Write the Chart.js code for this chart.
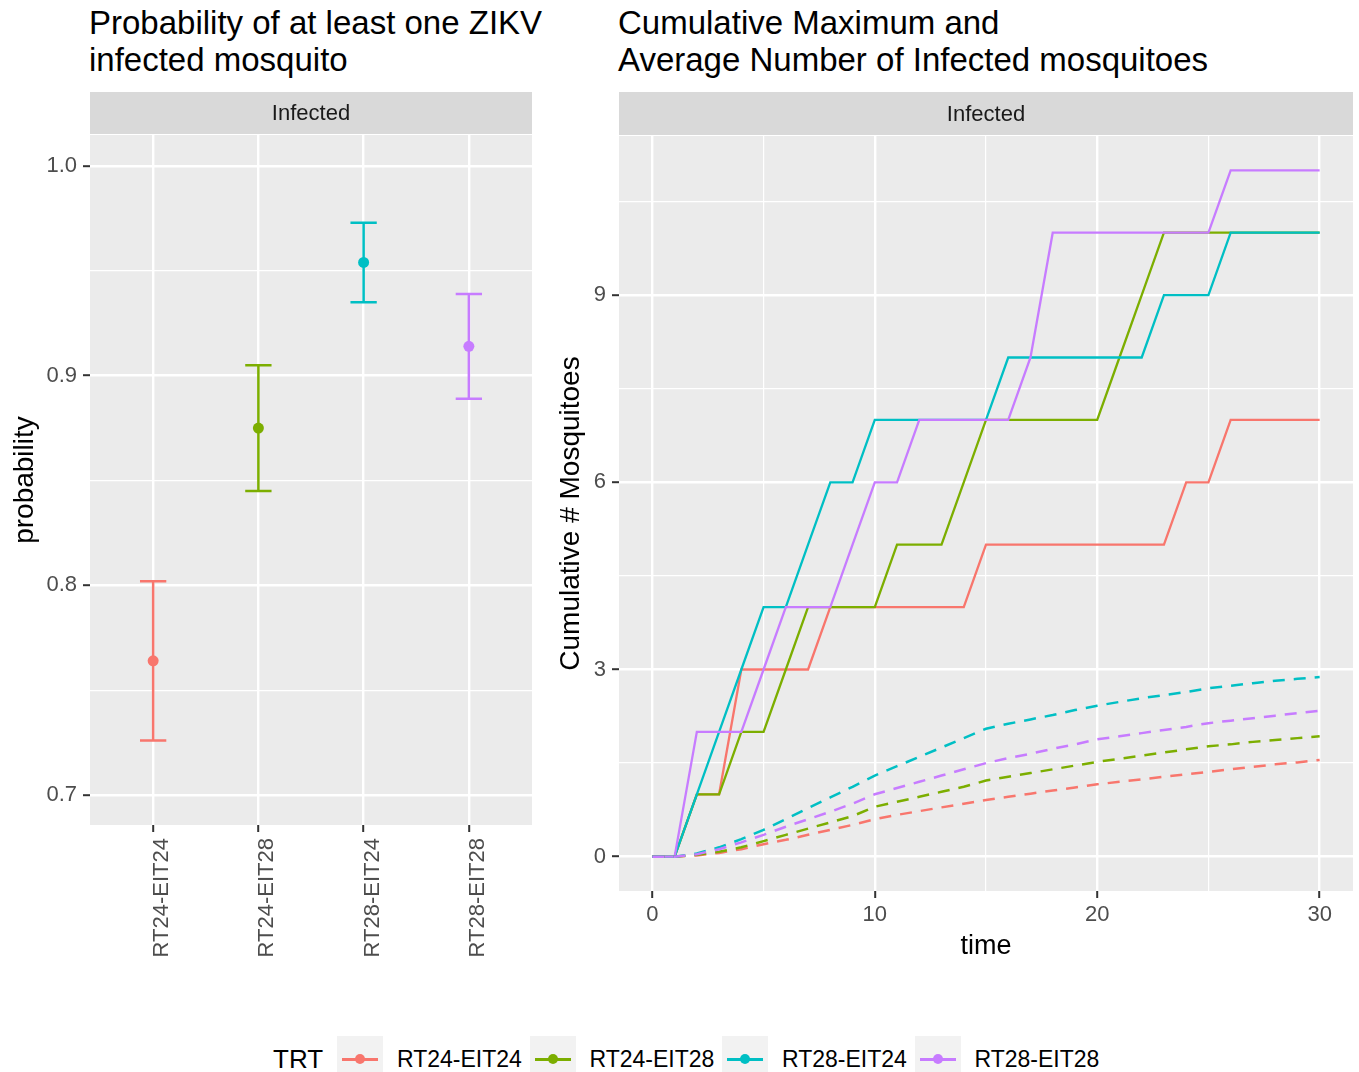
<!DOCTYPE html>
<html>
<head>
<meta charset="utf-8">
<script src="https://cdn.jsdelivr.net/npm/chart.js@4.4.1/dist/chart.umd.min.js"></script>
<style>
  body { margin: 0; background: #fff; font-family: "Liberation Sans", Arial, sans-serif; }
  #page { position: relative; width: 1359px; height: 1072px; overflow: hidden; }
  .title { position: absolute; top: 4px; font-size: 33px; line-height: 37px; color: #000; white-space: nowrap; }
  canvas { position: absolute; }
  #legend { position: absolute; left: 0; top: 1036px; width: 1359px; height: 46px; }
  #legend .ttl { position: absolute; left: 273px; top: 6px; font-size: 26px; line-height: 34px; color: #000; }
  #legend .key { position: absolute; top: 0; width: 46px; height: 46px; background: #F2F2F2; }
  #legend .key .ln { position: absolute; left: 5px; right: 5px; top: 22px; height: 2.5px; }
  #legend .key .pt { position: absolute; left: 18px; top: 18px; width: 10px; height: 10px; border-radius: 50%; }
  #legend .lbl { position: absolute; top: 8px; font-size: 23px; line-height: 30px; color: #000; white-space: nowrap; }
</style>
</head>
<body>
<div id="page">
  <div class="title" style="left:89px">Probability of at least one ZIKV<br>infected mosquito</div>
  <div class="title" style="left:618px">Cumulative Maximum and<br>Average Number of Infected mosquitoes</div>
  <canvas id="probChart" width="548" height="890" style="left:0;top:92px"></canvas>
  <canvas id="cumChart" width="814" height="890" style="left:545px;top:92px"></canvas>
  <div id="legend"></div>
</div>
<script>
// Группы и цвета
const treatments = ["RT24-EIT24", "RT24-EIT28", "RT28-EIT24", "RT28-EIT28"];
const colors = ["#F8766D", "#7CAE00", "#00BFC4", "#C77CFF"];

// Левая панель: вероятность и интервалы
const probEst = [0.764, 0.875, 0.954, 0.914];
const probLow = [0.726, 0.845, 0.935, 0.889];
const probHigh = [0.802, 0.905, 0.973, 0.939];
const probTicks = [0.7, 0.75, 0.8, 0.85, 0.9, 0.95, 1.0];

// Правая панель: время и ряды
const days = [0, 1, 2, 3, 4, 5, 6, 7, 8, 9, 10, 11, 12, 13, 14, 15, 16, 17, 18, 19, 20, 21, 22, 23, 24, 25, 26, 27, 28, 29, 30];
const maxRT24_EIT24 = [0, 0, 1, 1, 3, 3, 3, 3, 4, 4, 4, 4, 4, 4, 4, 5, 5, 5, 5, 5, 5, 5, 5, 5, 6, 6, 7, 7, 7, 7, 7];
const maxRT24_EIT28 = [0, 0, 1, 1, 2, 2, 3, 4, 4, 4, 4, 5, 5, 5, 6, 7, 7, 7, 7, 7, 7, 8, 9, 10, 10, 10, 10, 10, 10, 10, 10];
const maxRT28_EIT24 = [0, 0, 1, 2, 3, 4, 4, 5, 6, 6, 7, 7, 7, 7, 7, 7, 8, 8, 8, 8, 8, 8, 8, 9, 9, 9, 10, 10, 10, 10, 10];
const maxRT28_EIT28 = [0, 0, 2, 2, 2, 3, 4, 4, 4, 5, 6, 6, 7, 7, 7, 7, 7, 8, 10, 10, 10, 10, 10, 10, 10, 10, 11, 11, 11, 11, 11];
const avgRT24_EIT24 = [0, 0, 0.02, 0.06, 0.12, 0.2, 0.27, 0.35, 0.43, 0.51, 0.6, 0.67, 0.73, 0.79, 0.85, 0.91, 0.96, 1.01, 1.06, 1.11, 1.16, 1.2, 1.24, 1.28, 1.32, 1.36, 1.4, 1.44, 1.48, 1.51, 1.55];
const avgRT24_EIT28 = [0, 0, 0.03, 0.08, 0.15, 0.25, 0.35, 0.45, 0.55, 0.65, 0.8, 0.88, 0.96, 1.04, 1.12, 1.22, 1.28, 1.34, 1.4, 1.46, 1.52, 1.57, 1.62, 1.67, 1.72, 1.77, 1.8, 1.84, 1.87, 1.9, 1.93];
const avgRT28_EIT24 = [0, 0, 0.05, 0.15, 0.28, 0.43, 0.6, 0.78, 0.95, 1.12, 1.3, 1.45, 1.6, 1.75, 1.9, 2.05, 2.13, 2.2, 2.27, 2.35, 2.42, 2.48, 2.54, 2.59, 2.64, 2.7, 2.74, 2.78, 2.82, 2.85, 2.88];
const avgRT28_EIT28 = [0, 0, 0.04, 0.12, 0.23, 0.35, 0.48, 0.6, 0.72, 0.85, 1.0, 1.1, 1.2, 1.3, 1.4, 1.5, 1.58, 1.65, 1.73, 1.8, 1.88, 1.93, 1.98, 2.03, 2.08, 2.14, 2.18, 2.22, 2.26, 2.3, 2.34];
const countTicks = [0, 1.5, 3, 4.5, 6, 7.5, 9, 10.5];
const dayTicks = [0, 5, 10, 15, 20, 25, 30];

const maxSeries = [maxRT24_EIT24, maxRT24_EIT28, maxRT28_EIT24, maxRT28_EIT28];
const avgSeries = [avgRT24_EIT24, avgRT24_EIT28, avgRT28_EIT24, avgRT28_EIT28];

const FONT = "'Liberation Sans', Arial, sans-serif";
const PANEL = "#EBEBEB";
const STRIP = "#D9D9D9";

// Фон панели и полоса "Infected"
const panelPlugin = {
  id: "panel",
  beforeDraw(chart) {
    const { ctx, chartArea: a } = chart;
    ctx.save();
    ctx.fillStyle = PANEL;
    ctx.fillRect(a.left, a.top, a.right - a.left, a.bottom - a.top);
    ctx.fillStyle = STRIP;
    ctx.fillRect(a.left, 0, a.right - a.left, a.top - 1);
    ctx.fillStyle = "#1A1A1A";
    ctx.font = "22px " + FONT;
    ctx.textAlign = "center";
    ctx.textBaseline = "middle";
    ctx.fillText("Infected", (a.left + a.right) / 2, (a.top - 1) / 2 + 1);
    ctx.restore();
  },
};

// Усы интервалов
const errorBars = {
  id: "errorBars",
  beforeDatasetsDraw(chart) {
    const { ctx, scales: { x, y } } = chart;
    ctx.save();
    ctx.lineWidth = 2.5;
    treatments.forEach((t, i) => {
      const cx = x.getPixelForValue(i);
      const l = x.getPixelForValue(i - 0.125);
      const r = x.getPixelForValue(i + 0.125);
      const hi = y.getPixelForValue(probHigh[i]);
      const lo = y.getPixelForValue(probLow[i]);
      ctx.strokeStyle = colors[i];
      ctx.beginPath();
      ctx.moveTo(l, hi); ctx.lineTo(r, hi);
      ctx.moveTo(cx, hi); ctx.lineTo(cx, lo);
      ctx.moveTo(l, lo); ctx.lineTo(r, lo);
      ctx.stroke();
    });
    ctx.restore();
  },
};

const tickFont = { family: FONT, size: 22 };
const titleFont = { family: FONT, size: 28 };

// Левый график
new Chart(document.querySelector("#probChart").getContext("2d"), {
  type: "scatter",
  data: {
    datasets: treatments.map((t, i) => ({
      label: t,
      data: [{ x: i, y: probEst[i] }],
      backgroundColor: colors[i],
      borderColor: colors[i],
      pointRadius: 5.5,
      pointBorderWidth: 0,
    })),
  },
  options: {
    responsive: false,
    animation: false,
    layout: { padding: { top: 43, right: 16, left: 0, bottom: 0 } },
    plugins: { legend: { display: false }, tooltip: { enabled: false } },
    scales: {
      x: {
        type: "linear",
        min: -0.6,
        max: 3.6,
        afterBuildTicks: (s) => { s.ticks = treatments.map((t, i) => ({ value: i })); },
        afterFit: (s) => { s.height = 157; },
        border: { display: false },
        grid: { color: "#fff", lineWidth: 2.4, tickLength: 7, tickColor: "#333", tickWidth: 2 },
        ticks: {
          autoSkip: false,
          minRotation: 90,
          maxRotation: 90,
          padding: 6,
          labelOffset: 9,
          color: "#4D4D4D",
          font: tickFont,
          callback: (v) => treatments[v],
        },
      },
      y: {
        min: 0.6857,
        max: 1.0148,
        afterBuildTicks: (s) => { s.ticks = probTicks.map((v) => ({ value: v })); },
        afterFit: (s) => { s.width = 90; },
        border: { display: false },
        grid: {
          color: "#fff",
          lineWidth: (c) => (Math.round(c.tick.value * 100) % 10 === 0 ? 2.4 : 1.2),
          tickLength: 7,
          tickColor: (c) => (Math.round(c.tick.value * 100) % 10 === 0 ? "#333" : "rgba(0,0,0,0)"),
          tickWidth: 2,
        },
        ticks: {
          padding: 6,
          color: "#4D4D4D",
          font: tickFont,
          callback: (v) => (Math.round(v * 100) % 10 === 0 ? v.toFixed(1) : ""),
        },
        title: { display: true, text: "probability", color: "#000", font: titleFont, padding: { top: 8, bottom: 0 } },
      },
    },
  },
  plugins: [panelPlugin, errorBars],
});

// Правый график
const lineSets = [];
treatments.forEach((t, i) => {
  lineSets.push({
    label: t + " max",
    data: days.map((d, k) => ({ x: d, y: maxSeries[i][k] })),
    borderColor: colors[i],
    borderWidth: 2.3,
    pointRadius: 0,
    order: 8 - i,
  });
});
treatments.forEach((t, i) => {
  lineSets.push({
    label: t + " avg",
    data: days.map((d, k) => ({ x: d, y: avgSeries[i][k] })),
    borderColor: colors[i],
    borderWidth: 2.5,
    borderDash: [12, 9],
    pointRadius: 0,
    order: 4 - i,
  });
});

new Chart(document.querySelector("#cumChart").getContext("2d"), {
  type: "line",
  data: { datasets: lineSets },
  options: {
    responsive: false,
    animation: false,
    layout: { padding: { top: 44, right: 6, left: 0, bottom: 0 } },
    plugins: { legend: { display: false }, tooltip: { enabled: false } },
    scales: {
      x: {
        type: "linear",
        min: -1.5,
        max: 31.5,
        afterBuildTicks: (s) => { s.ticks = dayTicks.map((v) => ({ value: v })); },
        afterFit: (s) => { s.height = 91; },
        border: { display: false },
        grid: {
          color: "#fff",
          lineWidth: (c) => (c.tick.value % 10 === 0 ? 2.4 : 1.2),
          tickLength: 7,
          tickColor: (c) => (c.tick.value % 10 === 0 ? "#333" : "rgba(0,0,0,0)"),
          tickWidth: 2,
        },
        ticks: {
          maxRotation: 0,
          autoSkip: false,
          padding: 4,
          color: "#4D4D4D",
          font: tickFont,
          callback: (v) => (v % 10 === 0 ? String(v) : ""),
        },
        title: { display: true, text: "time", color: "#000", font: { family: FONT, size: 27 }, padding: { top: 0, bottom: 19 } },
      },
      y: {
        min: -0.55,
        max: 11.55,
        afterBuildTicks: (s) => { s.ticks = countTicks.map((v) => ({ value: v })); },
        afterFit: (s) => { s.width = 74; },
        border: { display: false },
        grid: {
          color: "#fff",
          lineWidth: (c) => (c.tick.value % 3 === 0 ? 2.4 : 1.2),
          tickLength: 7,
          tickColor: (c) => (c.tick.value % 3 === 0 ? "#333" : "rgba(0,0,0,0)"),
          tickWidth: 2,
        },
        ticks: {
          padding: 6,
          color: "#4D4D4D",
          font: tickFont,
          callback: (v) => (v % 3 === 0 ? String(v) : ""),
        },
        title: { display: true, text: "Cumulative # Mosquitoes", color: "#000", font: titleFont, padding: { top: 9, bottom: 0 } },
      },
    },
  },
  plugins: [panelPlugin],
});

// Легенда снизу
const legend = document.querySelector("#legend");
legend.innerHTML = '<div class="ttl">TRT</div>';
treatments.forEach((t, i) => {
  const left = 337 + i * 192.5;
  legend.innerHTML +=
    `<div class="key" style="left:${left}px"><div class="ln" style="background:${colors[i]}"></div>` +
    `<div class="pt" style="background:${colors[i]}"></div></div>` +
    `<div class="lbl" style="left:${left + 60}px">${t}</div>`;
});
</script>
</body>
</html>
